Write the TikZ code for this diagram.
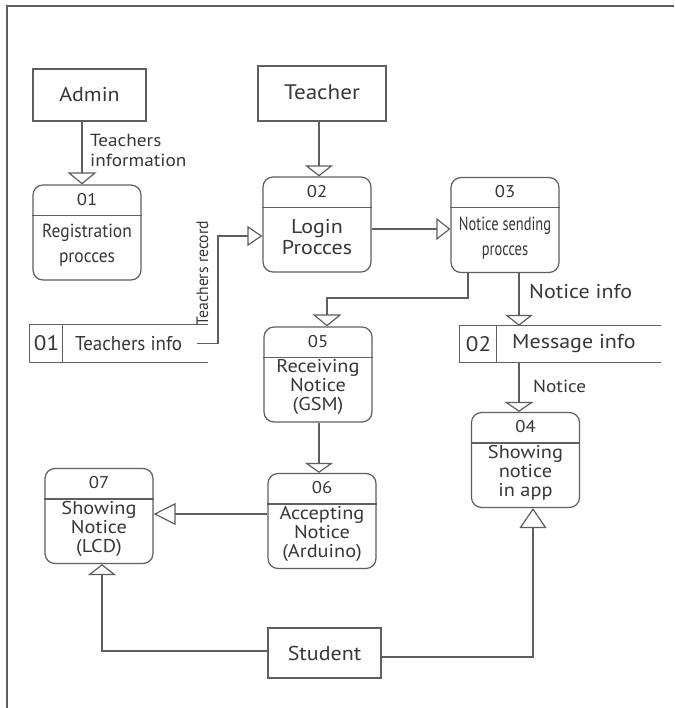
\documentclass[tikz,border=0pt]{standalone}
\usepackage{fontspec}
\setmainfont[FakeStretch=1.1]{PT Sans}
\newfontfamily\regcond[FakeStretch=0.92]{PT Sans}
\newfontfamily\notcond[FakeStretch=0.76]{PT Sans}
\newfontfamily\ticond[FakeStretch=0.95]{PT Sans}
\usetikzlibrary{arrows.meta}
\definecolor{ln}{RGB}{95,95,95}
\definecolor{tx}{RGB}{55,55,55}
\tikzset{
  line/.style={draw=ln, line width=1.2pt},
  arr/.style 2 args={line, -{Triangle[open,length=#1pt,width=#2pt,line width=1.2pt]}},
  entity/.style={line, rectangle, inner sep=0pt, text=tx, font=\fontsize{20}{21}\selectfont},
  proc/.style={line, rectangle, rounded corners=10pt, minimum width=108pt, minimum height=95pt, inner sep=0pt},
  numtxt/.style={text=tx, font=\fontsize{17}{18}\selectfont, inner sep=0pt},
  bodytxt/.style={text=tx, font=\fontsize{18.5}{19}\selectfont, align=center, inner sep=0pt},
  lbl/.style={text=tx, font=\fontsize{17.5}{20}\selectfont, inner sep=0pt, align=left},
  storebox/.style={rectangle, inner sep=0pt}
}
\newcommand\procbox[5]{%
  \node[proc] (#1) at (#2) {};
  \draw[line] ([yshift=-31pt]#1.north west) -- ([yshift=-31pt]#1.north east);
  \node[numtxt] (#1n) at ([yshift=-15pt]#1.north) {#3};
  \node[bodytxt, #4] (#1b) at ([yshift=-61pt]#1.north) {#5};
}
\begin{document}
\begin{tikzpicture}[x=1pt,y=-1pt]
\useasboundingbox (0,0) rectangle (674,708);
\fill[white] (0,0) rectangle (674,708);
\coordinate (fr1) at (7,708);
\coordinate (fr2) at (7,6);
\coordinate (fr3) at (674,6);
\draw[draw=ln, line width=1.4pt] (fr1) -- (fr2) -- (fr3);

% entities
\node[entity, minimum width=113pt, minimum height=52pt] (admin) at (89.5,95) {Admin};
\node[entity, minimum width=128pt, minimum height=55pt, font=\fontsize{21}{22}\selectfont] (teacher) at (322,93.5) {\raisebox{3pt}{Teacher}};
\node[entity, minimum width=113pt, minimum height=50pt] (student) at (324.5,653) {Student};

% processes
\procbox{p1}{87,232.5}{01}{font=\regcond\fontsize{19}{25}\selectfont}{Registration\\procces}
\procbox{p2}{317,224.5}{02}{font=\fontsize{20}{21}\selectfont}{Login\\Procces}
\procbox{p3}{505,225}{03}{font=\notcond\fontsize{19}{25}\selectfont}{Notice sending\\procces}
\procbox{p4}{525.5,460}{04}{}{Showing\\notice\\in app}
\procbox{p5}{318,374.5}{05}{}{Receiving\\Notice\\(GSM)}
\procbox{p6}{322,521}{06}{}{Accepting\\Notice\\(Arduino)}
\procbox{p7}{99,516}{07}{}{Showing\\Notice\\(LCD)}

% data stores
\node[storebox, minimum width=178pt, minimum height=37pt] (ti) at (119,343.5) {};
\draw[line] (ti.north east) -- (ti.north west) -- (ti.south west) -- (ti.south east);
\draw[line] ([xshift=33pt]ti.north west) -- ([xshift=33pt]ti.south west);
\node[lbl, font=\fontsize{21}{22}\selectfont] (tin) at (46.5,343.5) {01};
\node[lbl, anchor=west, font=\ticond\fontsize{20}{22}\selectfont] (tit) at (75,343.5) {Teachers info};

\node[storebox, minimum width=201pt, minimum height=36pt] (mi) at (560.5,344) {};
\draw[line] (mi.north east) -- (mi.north west) -- (mi.south west) -- (mi.south east);
\draw[line] ([xshift=37pt]mi.north west) -- ([xshift=37pt]mi.south west);
\node[lbl, font=\fontsize{21}{22}\selectfont] (min) at (478.5,344) {02};
\node[lbl, anchor=west, font=\fontsize{20}{21}\selectfont] (mit) at (512,344) {Message info};

% connectors
\draw[arr={12}{29}] (admin.south -| 82,0) -- (p1.north -| 82,0);
\node[lbl, anchor=west] (l1) at (90,150) {Teachers\\information};

\draw[arr={11}{28}] (teacher.south -| 319,0) -- (p2.north -| 319,0);
\draw[arr={14}{22}] (p2.east |- 0,229) -- (p3.west |- 0,229);

\coordinate (b1) at (218,236);
\draw[arr={15}{20}] ([xshift=-11pt]ti.east) -| (b1) -- (p2.west |- b1);
\node[lbl, rotate=90, font=\ticond\fontsize{16.5}{18}\selectfont] (l2) at (202.5,273) {Teachers record};

\coordinate (b2) at (327,298);
\draw[arr={12}{29}] (p3.south -| 468,0) |- (b2) -- (p5.north -| b2);

\draw[arr={11}{28}] (p3.south -| 519,0) -- (mi.north -| 519,0);
\node[lbl, anchor=west, font=\fontsize{20}{21}\selectfont] (l3) at (529,292) {Notice info};

\draw[arr={10}{29}] (mi.south -| 519,0) -- (p4.north -| 519,0);
\node[lbl, anchor=west] (l4) at (533,386) {Notice};

\draw[arr={10}{28}] (p5.south -| 319,0) -- (p6.north -| 319,0);
\draw[arr={22}{22}] (p6.west |- 0,514) -- (p7.east |- 0,514);

\draw[arr={11}{28}] (student.west |- 0,651) -| (p7.south -| 102,0);
\draw[arr={20}{27}] (student.east |- 0,657) -| (p4.south -| 533,0);
\end{tikzpicture}
\end{document}
